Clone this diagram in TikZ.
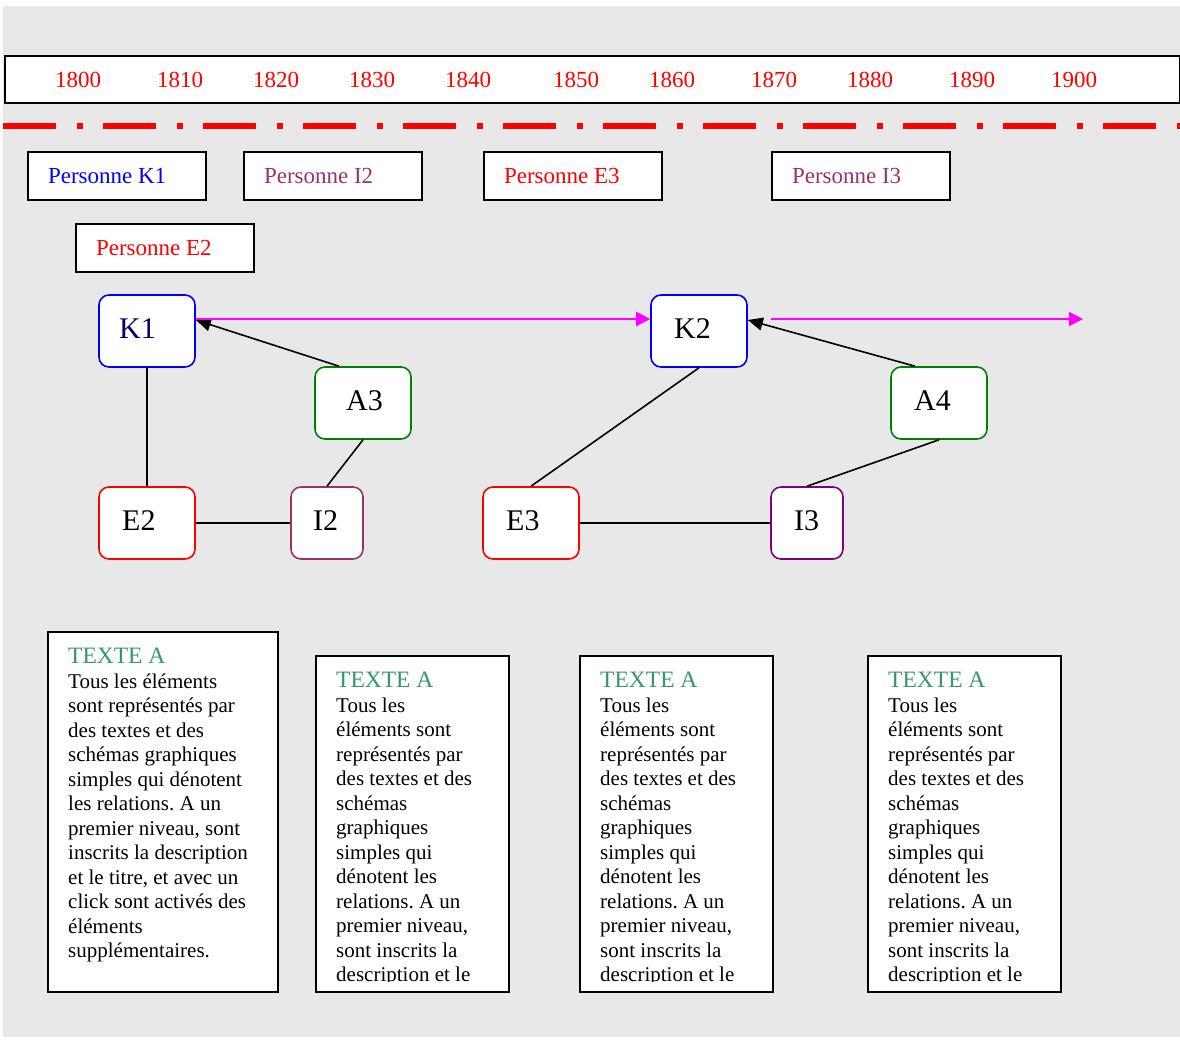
\documentclass[tikz,border=0pt]{standalone}
\usepackage{fontspec}
\setmainfont{Liberation Serif}
\usetikzlibrary{arrows.meta}
\definecolor{bggray}{RGB}{232,232,232}
\definecolor{plum}{RGB}{153,51,102}
\definecolor{seagr}{RGB}{51,153,102}
\definecolor{purp}{RGB}{128,0,128}
\definecolor{dgreen}{RGB}{0,128,0}
\definecolor{navyk}{RGB}{0,0,110}
\definecolor{magen}{RGB}{255,0,255}
\frenchspacing
\begin{document}
\begin{tikzpicture}[x=1pt,y=-1pt,
  yearlbl/.style={anchor=base,text=red,font=\fontsize{23}{26}\selectfont,inner sep=0},
  personbox/.style={draw=black,line width=2pt,fill=white,minimum height=48pt,minimum width=178pt,inner xsep=20pt,font=\fontsize{23}{26}\selectfont},
  nbox/.style={rounded corners=10pt,fill=white,line width=1.6pt,minimum width=96pt,minimum height=72pt,inner sep=0},
  sbox/.style={rounded corners=10pt,fill=white,line width=1.6pt,minimum width=72pt,minimum height=72pt,inner sep=0},
  nlbl/.style={anchor=base west,inner sep=0,font=\fontsize{30}{32}\selectfont},
  link/.style={draw=black,line width=1.6pt},
  arr/.style={draw=black,line width=1.6pt,-{Triangle[length=15pt,width=13pt]}},
  marr/.style={draw=magen,line width=2pt,-{Triangle[length=14pt,width=14pt]}},
  txtbox/.style={draw=black,line width=2pt,fill=white},
  head/.style={anchor=base west,inner sep=0,text=seagr,font=\fontsize{23.5}{26}\selectfont},
  body/.style={anchor=base west,inner sep=0,font=\fontsize{21}{24.5}\selectfont}
]
\useasboundingbox (0,0) rectangle (1180,1039);
\fill[white] (0,0) rectangle (1180,1039);
\fill[bggray] (3,6) rectangle (1180,1037);

% timeline
\node[draw=black,line width=2pt,fill=white,minimum width=1175pt,minimum height=47pt,inner sep=0,anchor=north west] (timeline) at (4,55) {};
\foreach \yr/\xx in {1800/78,1810/180,1820/276,1830/372,1840/468,1850/576,1860/672,1870/774,1880/870,1890/972,1900/1074}
  \node[yearlbl] (y\yr) at (\xx,87) {\yr};

% dash-dot line
\draw[red,line width=6pt,dash pattern=on 53pt off 21pt on 6pt off 20pt] (3,126) -- (1180,126);

% persons
\node[personbox,text=blue,anchor=north west] (pK1) at (27,151) {\makebox[138pt][l]{Personne K1}};
\node[personbox,text=plum,anchor=north west] (pI2) at (243,151) {\makebox[138pt][l]{Personne I2}};
\node[personbox,text=red,anchor=north west] (pE3) at (483,151) {\makebox[138pt][l]{Personne E3}};
\node[personbox,text=plum,anchor=north west] (pI3) at (771,151) {\makebox[138pt][l]{Personne I3}};
\node[personbox,text=red,anchor=north west] (pE2) at (75,223) {\makebox[138pt][l]{Personne E2}};

% graph nodes
\node[nbox,draw=blue] (K1) at (147,331) {};
\node[nbox,draw=dgreen] (A3) at (363,403) {};
\node[nbox,draw=red] (E2) at (147,523) {};
\node[sbox,draw=plum] (I2) at (327,523) {};
\node[nbox,draw=blue] (K2) at (699,331) {};
\node[nbox,draw=dgreen] (A4) at (939,403) {};
\node[nbox,draw=red] (E3) at (531,523) {};
\node[sbox,draw=purp] (I3) at (807,523) {};

\node[nlbl,text=navyk] (K1t) at (119,338) {K1};
\node[nlbl] (A3t) at (346,410) {A3};
\node[nlbl] (E2t) at (122,530) {E2};
\node[nlbl] (I2t) at (313,530) {I2};
\node[nlbl] (K2t) at (674,338) {K2};
\node[nlbl] (A4t) at (914,410) {A4};
\node[nlbl] (E3t) at (506,530) {E3};
\node[nlbl] (I3t) at (794,530) {I3};

% connectors
\draw[link] (K1.south) -- (E2.north);
\draw[link] (E2.east) -- (I2.west);
\draw[link] (I2.north) -- (A3.south);
\draw[arr] (A3.north -| 339,0) -- (K1.east |- 0,320);
\draw[marr] (K1.east |- 0,319) -- (K2.west |- 0,319);
\coordinate (mstart) at (771,319);
\coordinate (mend) at (1083,319);
\draw[marr] (mstart) -- (mend);
\draw[arr] (A4.north -| 915,0) -- (K2.east |- 0,320);
\draw[link] (K2.south) -- (E3.north);
\draw[link] (E3.east) -- (I3.west);
\draw[link] (I3.north) -- (A4.south);

% text boxes
\node[txtbox,minimum width=230pt,minimum height=360pt,anchor=north west] (T1) at (47,631) {};
\node[txtbox,minimum width=193pt,minimum height=336pt,anchor=north west] (T2) at (315,655) {};
\node[txtbox,minimum width=193pt,minimum height=336pt,anchor=north west] (T3) at (579,655) {};
\node[txtbox,minimum width=193pt,minimum height=336pt,anchor=north west] (T4) at (867,655) {};

\node[head] (h1) at (68,663) {TEXTE A};
\node[body] (b1) at (68,688) {\parbox[t]{220pt}{\raggedright Tous les éléments\\sont représentés par\\des textes et des\\schémas graphiques\\simples qui dénotent\\les relations. A un\\premier niveau, sont\\inscrits la description\\et le titre, et avec un\\click sont activés des\\éléments\\supplémentaires.}};

\foreach \bx/\xx in {2/336,3/600,4/888}{
  \node[head] (h\bx) at (\xx,687) {TEXTE A};
  \begin{scope}
    \clip (\xx-10,690) rectangle (\xx+170,981);
    \node[body] (b\bx) at (\xx,712) {\parbox[t]{200pt}{\raggedright Tous les\\éléments sont\\représentés par\\des textes et des\\schémas\\graphiques\\simples qui\\dénotent les\\relations. A un\\premier niveau,\\sont inscrits la\\description et le}};
  \end{scope}
}
\end{tikzpicture}
\end{document}
